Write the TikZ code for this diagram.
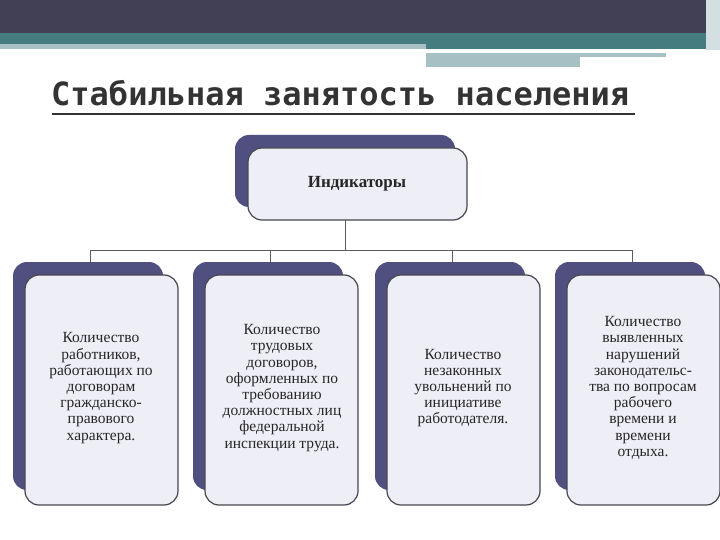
\documentclass[tikz,border=0pt]{standalone}
\usepackage{fontspec}
\setmainfont{Liberation Serif}
\newfontfamily\titlefont{DejaVu Sans Mono}
\begin{document}
\begin{tikzpicture}[x=1pt,y=-1pt,
  shadowbox/.style={fill=shad,rounded corners=14pt},
  frontbox/.style={fill=front,draw=edge,line width=1.2pt,rounded corners=14pt},
  txt/.style={align=center,font=\fontsize{15.5}{16.2}\selectfont,text=black!85},
  conn/.style={draw=linec,line width=1pt}]
\definecolor{band}{RGB}{65,64,84}
\definecolor{teal}{RGB}{69,124,128}
\definecolor{lite}{RGB}{167,192,195}
\definecolor{shad}{RGB}{80,80,128}
\definecolor{front}{RGB}{238,238,246}
\definecolor{edge}{RGB}{70,70,80}
\definecolor{linec}{RGB}{90,90,100}
\useasboundingbox (0,0) rectangle (720,540);
\fill[white] (0,0) rectangle (720,540);
\fill[band] (0,0) rectangle (720,33);
\fill[teal] (0,33) rectangle (720,44);
\fill[teal] (426,44) rectangle (720,49);
\fill[lite] (0,44) rectangle (426,49);
\fill[lite] (426,53) rectangle (666,57);
\fill[lite] (426,57) rectangle (580,67);
\fill[lite!50] (706,0) rectangle (720,50);
\node[anchor=base west,font=\titlefont\bfseries\fontsize{32}{34}\selectfont,text=black!80,inner sep=0] (title) at (51,106) {Стабильная занятость населения};
\draw[black!80,line width=1.3pt] (52,114) -- (635,114);
% top
\fill[shadowbox] (235,135) rectangle (455,207);
\draw[frontbox] (248,148) rectangle (467,220);
\node[font=\bfseries\fontsize{17}{18}\selectfont,text=black!85] (top) at (357,184) {Индикаторы};
\coordinate (tb) at (345,220);
\coordinate (hub) at (345,250);
\coordinate (h1) at (90,250); \coordinate (h2) at (270,250);
\coordinate (h3) at (452,250); \coordinate (h4) at (632,250);
\coordinate (d1) at (90,263); \coordinate (d2) at (270,263);
\coordinate (d3) at (452,263); \coordinate (d4) at (632,263);
\draw[conn] (tb) -- (hub);
\draw[conn] (h1) -- (h4);
\foreach \i in {1,...,4} \draw[conn] (h\i) -- (d\i);
% boxes
\foreach \x in {13,193,375,555}{
  \fill[shadowbox] (\x,262) rectangle ++(150,228);
  \draw[frontbox] (\x+12,275) rectangle ++(153,230);
}
\node[txt] (b1) at (101,388) {Количество\\работников,\\работающих по\\договорам\\гражданско-\\правового\\характера.};
\node[txt] (b2) at (282,388) {Количество\\трудовых\\договоров,\\оформленных по\\требованию\\должностных лиц\\федеральной\\инспекции труда.};
\node[txt] (b3) at (463,388) {Количество\\незаконных\\увольнений по\\инициативе\\работодателя.};
\node[txt] (b4) at (643,388) {Количество\\выявленных\\нарушений\\законодательс-\\тва по вопросам\\рабочего\\времени и\\времени\\отдыха.};
\end{tikzpicture}
\end{document}
